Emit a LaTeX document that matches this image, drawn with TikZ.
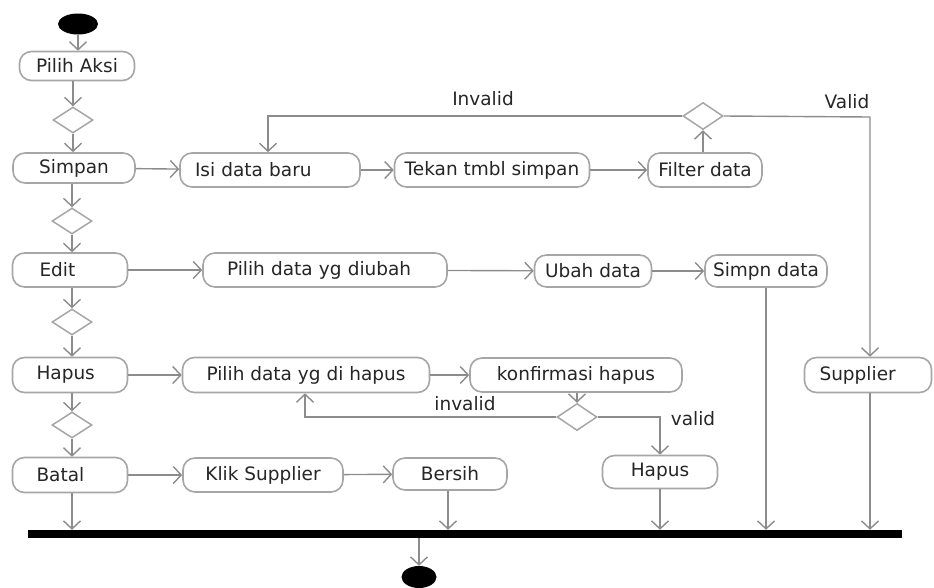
\documentclass[tikz,border=0pt]{standalone}
\usepackage{fontspec}
\setmainfont{DejaVu Sans}
\usetikzlibrary{shapes.geometric,arrows.meta}
\definecolor{linegray}{HTML}{8C8C8C}
\definecolor{boxgray}{HTML}{A6A6A6}
\definecolor{inkdark}{HTML}{262626}
\begin{document}
\begin{tikzpicture}[x=1pt,y=-1pt,
  every node/.style={font=\fontsize{18.5}{22}\selectfont, text=inkdark},
  act/.style={draw=boxgray, line width=1.6pt, rounded corners=12pt,
    minimum height=33pt, inner sep=0pt, fill=white},
  lact/.style={act, align=left, inner xsep=#1},
  choice/.style={diamond, draw=boxgray, line width=1.5pt, fill=white,
    minimum width=40pt, minimum height=26pt, inner sep=0pt},
  flow/.style={draw=linegray, line width=1.4pt,
    -{Straight Barb[length=8pt,width=17pt,line width=1.4pt]}},
  endpoint/.style={ellipse, fill=black, inner sep=0pt},
  tag/.style={inner sep=1pt}
]
\useasboundingbox (0,0) rectangle (934,587);

% start and end
\node[endpoint, minimum width=40pt, minimum height=21pt] (start) at (78,24) {};
\node[endpoint, minimum width=35pt, minimum height=22pt] (finish) at (419,577) {};

% synchronisation bar
\node[fill=black, minimum width=874pt, minimum height=8pt, inner sep=0pt] (bar) at (465,534) {};

% left column: menu choices
\node[act, minimum width=115pt, minimum height=29pt] (aksi) at (77,66) {Pilih Aksi};
\node[choice] (d1) at (73,120) {};
\node[act, minimum width=122pt, minimum height=30pt] (simpan) at (74,168) {Simpan};
\node[choice] (d2) at (72,221) {};
\node[lact=27pt, text width=61pt, minimum height=34pt] (edit) at (70,270) {\raisebox{-3pt}{Edit}};
\node[choice] (d3) at (72,322) {};
\node[lact=24pt, text width=67pt, minimum height=35pt] (hapus) at (70,375) {Hapus};
\node[choice] (d4) at (72,425) {};
\node[lact=24pt, text width=67pt, minimum height=35pt] (batal) at (70,475) {\raisebox{-2pt}{Batal}};

% Simpan row
\node[lact=15pt, text width=150pt, minimum height=34pt] (isi) at (270,170) {\raisebox{2pt}{Isi data baru}};
\node[act, minimum width=195pt, minimum height=34pt] (tekan) at (492,170) {Tekan tmbl simpan};
\node[act, minimum width=114pt, minimum height=34pt] (filter) at (705,170) {\raisebox{-2pt}{Filter data}};
\node[choice, minimum height=27pt] (dfilter) at (703,116) {};

% Edit row
\node[lact=24pt, text width=196pt, minimum height=34pt] (pilihubah) at (325,270) {\raisebox{2pt}{Pilih data yg diubah}};
\node[act, minimum width=117pt, minimum height=32pt] (ubah) at (593,271) {Ubah data};
\node[act, minimum width=122pt, minimum height=32pt] (simpn) at (766,271) {\raisebox{-2pt}{Simpn data}};

% Hapus row
\node[act, minimum width=247pt, minimum height=35pt] (pilihhapus) at (306,375) {Pilih data yg di hapus};
\node[act, minimum width=212pt, minimum height=34pt] (konfirmasi) at (576,375) {\raisebox{3pt}{konfirmasi hapus}};
\node[choice, minimum height=27pt] (dkonf) at (577,417) {};
\node[act, minimum width=115pt, minimum height=33pt] (hapusdata) at (660,472) {Hapus};
\node[lact=15pt, text width=97pt, minimum height=35pt] (supplier) at (868,375) {Supplier};

% Batal row
\node[act, minimum width=160pt, minimum height=34pt] (klik) at (263,475) {Klik Supplier};
\node[act, minimum width=114pt, minimum height=32pt] (bersih) at (450,474) {Bersih};

% guard labels
\node[tag] (lblinv1) at (483,99) {Invalid};
\node[tag] (lblval1) at (847,102) {Valid};
\node[tag] (lblinv2) at (465,404) {invalid};
\node[tag] (lblval2) at (693,419) {valid};

% corner points of the guarded branches
\coordinate (invturn) at (268,116);
\coordinate (valturn) at (870,117);
\coordinate (inv2turn) at (305,417);
\coordinate (val2turn) at (660,417);

% left column flow
\draw[flow] (start) -- (aksi.north -| start);
\draw[flow] (aksi.south -| d1) -- (d1.north);
\draw[flow] (d1.south) -- (simpan.north -| d1);
\draw[flow] (simpan.south -| d2) -- (d2.north);
\draw[flow] (d2.south) -- (edit.north -| d2);
\draw[flow] (edit.south -| d3) -- (d3.north);
\draw[flow] (d3.south) -- (hapus.north -| d3);
\draw[flow] (hapus.south -| d4) -- (d4.north);
\draw[flow] (d4.south) -- (batal.north -| d4);
\draw[flow] (batal.south -| d4) -- (bar.north -| d4);

% Simpan branch
\draw[flow] (simpan) -- (isi);
\draw[flow] (isi) -- (tekan);
\draw[flow] (tekan) -- (filter);
\draw[flow] (filter.north -| dfilter) -- (dfilter.south);
\draw[flow] (dfilter.west) -- (invturn) -- (isi.north -| invturn);
\draw[flow] (dfilter.east) -- (valturn) -- (supplier.north -| valturn);
\draw[flow] (supplier.south -| valturn) -- (bar.north -| valturn);

% Edit branch
\draw[flow] (edit) -- (pilihubah);
\draw[flow] (pilihubah) -- (ubah);
\draw[flow] (ubah) -- (simpn);
\draw[flow] (simpn.south) -- (bar.north -| simpn.south);

% Hapus branch
\draw[flow] (hapus) -- (pilihhapus);
\draw[flow] (pilihhapus) -- (konfirmasi);
\draw[flow] (konfirmasi.south -| dkonf) -- (dkonf.north);
\draw[flow] (dkonf.west) -- (inv2turn) -- (pilihhapus.south -| inv2turn);
\draw[flow] (dkonf.east) -- (val2turn) -- (hapusdata.north -| val2turn);
\draw[flow] (hapusdata.south) -- (bar.north -| hapusdata.south);

% Batal branch
\draw[flow] (batal) -- (klik);
\draw[flow] (klik) -- (bersih);
\draw[flow] (bersih.south -| 448,0) -- (bar.north -| 448,0);

% to the final state
\draw[flow] (bar.south -| finish) -- (finish.north);
\end{tikzpicture}
\end{document}
